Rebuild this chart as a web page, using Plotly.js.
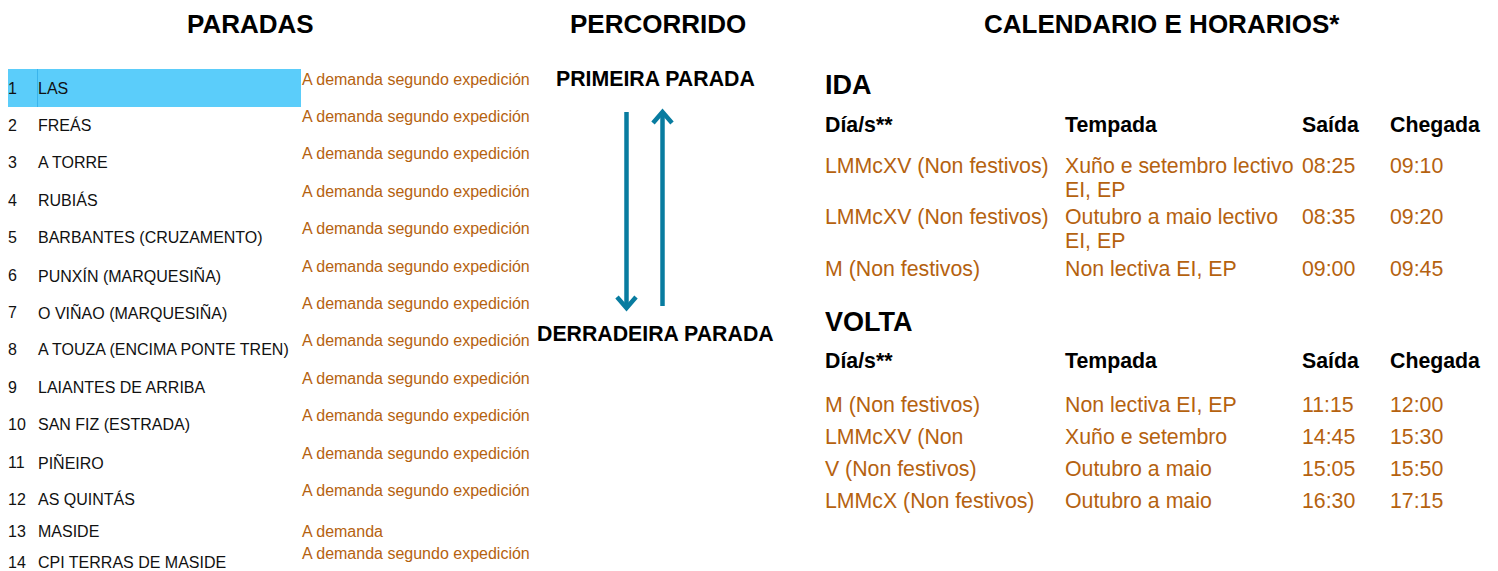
<!DOCTYPE html>
<html>
<head>
<meta charset="utf-8">
<script src="https://cdn.plot.ly/plotly-3.0.1.min.js"></script>
<style>html,body{margin:0;padding:0;background:#fff;}#chart{width:1498px;height:571px;}</style>
</head>
<body>
<div id="chart"></div>
<script>
// ---- DATA ----
const sectionTitles = ["PARADAS", "PERCORRIDO", "CALENDARIO E HORARIOS*"];
const stopNumbers = [1,2,3,4,5,6,7,8,9,10,11,12,13,14];
const stopNames = ["LAS","FREÁS","A TORRE","RUBIÁS","BARBANTES (CRUZAMENTO)","PUNXÍN (MARQUESIÑA)",
  "O VIÑAO (MARQUESIÑA)","A TOUZA (ENCIMA PONTE TREN)","LAIANTES DE ARRIBA","SAN FIZ (ESTRADA)",
  "PIÑEIRO","AS QUINTÁS","MASIDE","CPI TERRAS DE MASIDE"];
const stopNotes = ["A demanda segundo expedición","A demanda segundo expedición","A demanda segundo expedición",
  "A demanda segundo expedición","A demanda segundo expedición","A demanda segundo expedición",
  "A demanda segundo expedición","A demanda segundo expedición","A demanda segundo expedición",
  "A demanda segundo expedición","A demanda segundo expedición","A demanda segundo expedición",
  "A demanda","A demanda segundo expedición"];
const highlightedStop = 1;
const routeEnds = ["PRIMEIRA PARADA", "DERRADEIRA PARADA"];
const tableHeaders = ["Día/s**", "Tempada", "Saída", "Chegada"];
const idaLabel = "IDA";
const idaDays = ["LMMcXV (Non festivos)", "LMMcXV (Non festivos)", "M (Non festivos)"];
const idaSeason = ["Xuño e setembro lectivo|EI, EP", "Outubro a maio lectivo|EI, EP", "Non lectiva EI, EP"];
const idaDepart = ["08:25", "08:35", "09:00"];
const idaArrive = ["09:10", "09:20", "09:45"];
const voltaLabel = "VOLTA";
const voltaDays = ["M (Non festivos)", "LMMcXV (Non", "V (Non festivos)", "LMMcX (Non festivos)"];
const voltaSeason = ["Non lectiva EI, EP", "Xuño e setembro", "Outubro a maio", "Outubro a maio"];
const voltaDepart = ["11:15", "14:45", "15:05", "16:30"];
const voltaArrive = ["12:00", "15:30", "15:50", "17:15"];

// ---- STYLE / LAYOUT ----
const FONT = "Arial, Liberation Sans, sans-serif";
const ORANGE = "#B5620F";
const BLUE = "#5BCDFA";
const ARROW = "#087CA0";
const W = 1498, H = 571;

const ann = [];
function txt(x, y, text, opts) {
  opts = opts || {};
  ann.push({
    x: x, y: y, xref: "x", yref: "y", text: text, showarrow: false,
    xanchor: opts.xanchor || "left", yanchor: opts.yanchor || "middle",
    align: opts.align || "left", borderpad: 0, borderwidth: 0,
    font: {family: FONT, size: opts.size || 15, color: opts.color || "#000"}
  });
}

// section titles
const titleX = [250, 658, 1162];
sectionTitles.forEach((t, i) => txt(titleX[i], 24, "<b>" + t + "</b>", {xanchor: "center", size: 26}));

// stops
function stopNameY(i) { return i < 12 ? 88 + i * 37.4 : (i === 12 ? 531 : 562); }
function stopNoteY(i) { return i < 12 ? 79 + i * 37.4 : (i === 12 ? 531 : 553); }
stopNumbers.forEach((n, i) => {
  txt(8, stopNameY(i), String(n), {size: 16, color: "#111"});
  txt(38, stopNameY(i), stopNames[i], {size: 16, color: "#111"});
  txt(302, stopNoteY(i), stopNotes[i], {size: 16, color: ORANGE});
});

// route
txt(655, 79, "<b>" + routeEnds[0] + "</b>", {xanchor: "center", size: 21.3});
txt(655, 334, "<b>" + routeEnds[1] + "</b>", {xanchor: "center", size: 21.3});

// calendar
const colX = [825, 1065, 1302, 1390];
const LINE = 24;
function block(label, labelY, headerY, rowYs, days, season, dep, arr) {
  txt(colX[0], labelY, "<b>" + label + "</b>", {size: 27});
  tableHeaders.forEach((h, i) => txt(colX[i], headerY, "<b>" + h + "</b>", {size: 21.3}));
  days.forEach((d, r) => {
    const y = rowYs[r];
    const o = {size: 21.3, color: ORANGE};
    txt(colX[0], y, d, o);
    season[r].split("|").forEach((line, k) => txt(colX[1], y + k * LINE, line, o));
    txt(colX[2], y, dep[r], o);
    txt(colX[3], y, arr[r], o);
  });
}
block(idaLabel, 85, 125, [166, 217, 269], idaDays, idaSeason, idaDepart, idaArrive);
block(voltaLabel, 322, 361, [405, 437, 469, 501], voltaDays, voltaSeason, voltaDepart, voltaArrive);

// shapes
const hy = stopNameY(highlightedStop - 1);
const shapes = [
  {type: "rect", xref: "x", yref: "y", x0: 8, x1: 301, y0: hy - 19, y1: hy + 19, fillcolor: BLUE, line: {width: 0}, layer: "below"},
  {type: "line", xref: "x", yref: "y", x0: 37.5, x1: 37.5, y0: hy - 19, y1: hy + 19, line: {color: "#3AB4EC", width: 1}, layer: "below"},
  {type: "path", xref: "x", yref: "y", path: "M626.5,112 L626.5,308", line: {color: ARROW, width: 4.5}},
  {type: "path", xref: "x", yref: "y", path: "M617,297 L626.5,308 L636,297", line: {color: ARROW, width: 4.5}},
  {type: "path", xref: "x", yref: "y", path: "M662.5,306 L662.5,112", line: {color: ARROW, width: 4.5}},
  {type: "path", xref: "x", yref: "y", path: "M653,123 L662.5,112 L672,123", line: {color: ARROW, width: 4.5}}
];

const layout = {
  width: W, height: H,
  margin: {l: 0, r: 0, t: 0, b: 0, pad: 0},
  paper_bgcolor: "#fff", plot_bgcolor: "#fff",
  showlegend: false,
  xaxis: {range: [0, W], visible: false, fixedrange: true},
  yaxis: {range: [H, 0], visible: false, fixedrange: true},
  annotations: ann,
  shapes: shapes
};

Plotly.newPlot("chart", [{x: [], y: [], type: "scatter", mode: "markers", hoverinfo: "skip"}], layout, {displayModeBar: false, staticPlot: true});
</script>
</body>
</html>
